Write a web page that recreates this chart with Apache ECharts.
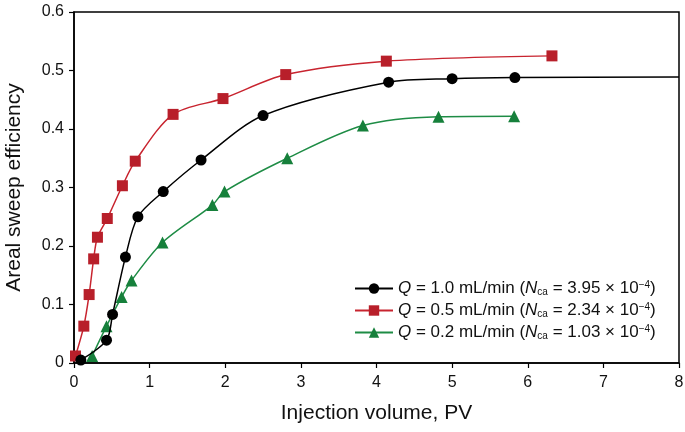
<!DOCTYPE html>
<html>
<head>
<meta charset="utf-8">
<script src="https://cdn.jsdelivr.net/npm/echarts@6/dist/echarts.min.js"></script>
<style>html,body{margin:0;padding:0;background:#fff}#c{width:685px;height:432px}</style>
</head>
<body>
<div id="c"></div>
<script>
// Data
const xTicks = [0, 1, 2, 3, 4, 5, 6, 7, 8];
const yTicks = [0, 0.1, 0.2, 0.3, 0.4, 0.5, 0.6];

const q10_x = [0.09, 0.43, 0.51, 0.68, 0.845, 1.18, 1.68, 2.50, 4.16, 5.00, 5.83, 8.0];
const q10_y = [0.005, 0.039, 0.083, 0.181, 0.250, 0.293, 0.347, 0.423, 0.480, 0.486, 0.488, 0.489];
const q10_markerless = [false, false, false, false, false, false, false, false, false, false, false, true];

const q05_x = [0.02, 0.13, 0.20, 0.26, 0.31, 0.44, 0.64, 0.81, 1.31, 1.97, 2.80, 4.13, 6.32];
const q05_y = [0.012, 0.063, 0.117, 0.178, 0.215, 0.247, 0.303, 0.345, 0.425, 0.452, 0.493, 0.516, 0.525];

const q02_x = [0.24, 0.43, 0.63, 0.76, 1.17, 1.83, 1.99, 2.82, 3.82, 4.82, 5.82];
const q02_y = [0.012, 0.063, 0.113, 0.141, 0.206, 0.270, 0.293, 0.350, 0.406, 0.421, 0.422];

const seriesNames = ['Q10', 'Q05', 'Q02'];
const legendLabels = {
  Q10: '{i|Q} = 1.0 mL/min ({i|N}{sub|ca} = 3.95 × 10{sup|−4})',
  Q05: '{i|Q} = 0.5 mL/min ({i|N}{sub|ca} = 2.34 × 10{sup|−4})',
  Q02: '{i|Q} = 0.2 mL/min ({i|N}{sub|ca} = 1.03 × 10{sup|−4})'
};

const FONT = '"Liberation Sans", Arial, sans-serif';

function pairs(xs, ys, noSym) {
  return xs.map((x, i) => {
    const item = { value: [x, ys[i]] };
    if (noSym && noSym[i]) item.symbol = 'none';
    return item;
  });
}

const chart = echarts.init(document.getElementById('c'), null, { renderer: 'canvas' });

const axisCommon = {
  axisLine: { show: true, onZero: false, lineStyle: { color: '#000', width: 1.5 } },
  axisTick: { show: true, inside: false, length: 5, lineStyle: { color: '#000', width: 1.2 } },
  splitLine: { show: false },
  axisLabel: { color: '#111', fontFamily: FONT, fontSize: 16 }
};

chart.setOption({
  animation: false,
  backgroundColor: '#fff',
  grid: { left: 74, right: 6, top: 12, bottom: 69, show: true, borderColor: '#000', borderWidth: 1.5,
          containLabel: false, outerBoundsMode: 'none' },
  xAxis: Object.assign({}, axisCommon, {
    type: 'value', min: xTicks[0], max: xTicks[xTicks.length - 1], interval: 1,
    name: 'Injection volume, PV', nameLocation: 'middle', nameGap: 40,
    nameTextStyle: { color: '#111', fontFamily: FONT, fontSize: 21 },
    axisLabel: Object.assign({}, axisCommon.axisLabel, { margin: 12 })
  }),
  yAxis: Object.assign({}, axisCommon, {
    type: 'value', min: yTicks[0], max: yTicks[yTicks.length - 1], interval: 0.1,
    name: 'Areal sweep efficiency', nameLocation: 'middle', nameGap: 49,
    nameTextStyle: { color: '#111', fontFamily: FONT, fontSize: 21 },
    axisLabel: Object.assign({}, axisCommon.axisLabel, { margin: 10, formatter: v => String(Math.round(v * 10) / 10) })
  }),
  legend: {
    left: 349, top: 275, orient: 'vertical', itemWidth: 38, itemHeight: 13, itemGap: 5,
    data: seriesNames,
    formatter: n => legendLabels[n],
    textStyle: {
      color: '#111', fontFamily: FONT, fontSize: 17, lineHeight: 17,
      rich: {
        i: { fontStyle: 'italic', fontFamily: FONT, fontSize: 17, color: '#111', lineHeight: 17 },
        sub: { fontSize: 10, fontFamily: FONT, color: '#111', verticalAlign: 'bottom', lineHeight: 17, padding: [5, 0, 0, 0] },
        sup: { fontSize: 10, fontFamily: FONT, color: '#111', verticalAlign: 'top', lineHeight: 17, padding: [0, 0, 7, 0] }
      }
    }
  },
  series: [
    {
      name: 'Q10', type: 'line', smooth: 0.3, data: pairs(q10_x, q10_y, q10_markerless),
      symbol: 'circle', symbolSize: 11, z: 3,
      lineStyle: { color: '#000', width: 1.5 }, itemStyle: { color: '#000' }
    },
    {
      name: 'Q05', type: 'line', smooth: 0.3, data: pairs(q05_x, q05_y),
      symbol: 'rect', symbolSize: 11, z: 2,
      lineStyle: { color: '#c8242f', width: 1.5 }, itemStyle: { color: '#b81f2a' }
    },
    {
      name: 'Q02', type: 'line', smooth: 0.3, data: pairs(q02_x, q02_y),
      symbol: 'triangle', symbolSize: 12, z: 2,
      lineStyle: { color: '#1e8c45', width: 1.5 }, itemStyle: { color: '#16803b' }
    }
  ]
});
</script>
</body>
</html>
